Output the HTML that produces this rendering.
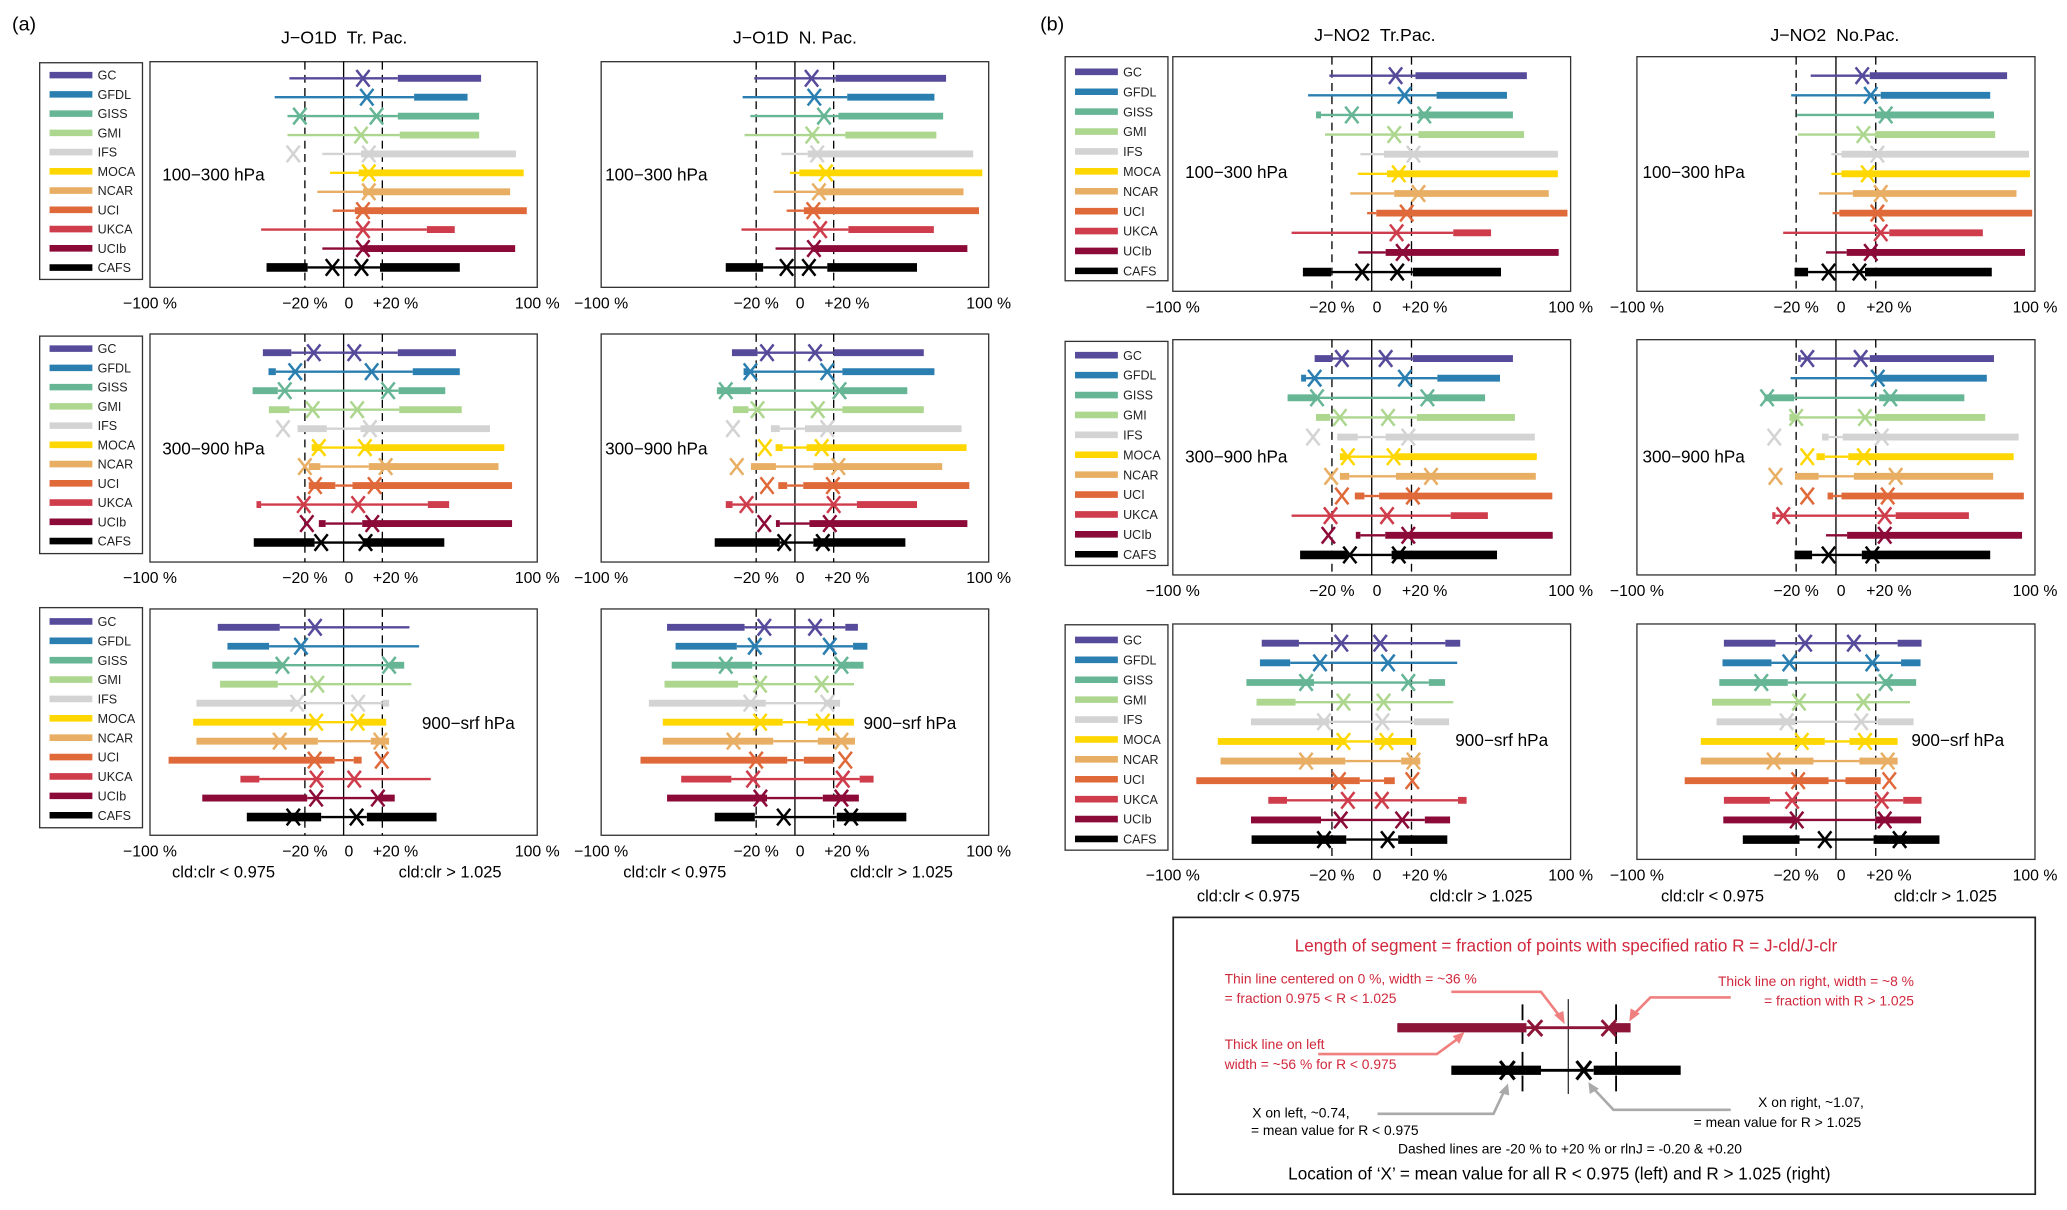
<!DOCTYPE html>
<html><head><meta charset="utf-8">
<style>
html,body{margin:0;padding:0;background:#fff;}
svg{display:block;}
text{font-family:"Liberation Sans",Arial,sans-serif;}
</style></head>
<body>
<svg id="fig" xmlns="http://www.w3.org/2000/svg" width="2067" height="1210" viewBox="0 0 1568 918">
<rect x="0" y="0" width="1568" height="918" fill="#fff"/>
<text x="9" y="23" font-size="15">(a)</text>
<text x="789" y="23" font-size="15">(b)</text>
<text x="261" y="33" font-size="13.5" text-anchor="middle">J−O1D &#160;Tr. Pac.</text>
<text x="603" y="33" font-size="13.5" text-anchor="middle">J−O1D &#160;N. Pac.</text>
<text x="1043" y="31" font-size="13.5" text-anchor="middle">J−NO2 &#160;Tr.Pac.</text>
<text x="1392" y="31" font-size="13.5" text-anchor="middle">J−NO2 &#160;No.Pac.</text>
<g id="plots"></g>
<g id="note">
<rect x="890" y="696" width="654" height="210" fill="#fff" stroke="#222" stroke-width="1.3"/>
<text x="1188" y="722" font-size="13" fill="#d0283c" text-anchor="middle">Length of segment = fraction of points with specified ratio R = J-cld/J-clr</text>
<text x="929" y="746" font-size="10.5" fill="#d0283c">Thin line centered on 0 %, width = ~36 %</text>
<text x="929" y="761" font-size="10.5" fill="#d0283c">= fraction 0.975 &lt; R &lt; 1.025</text>
<text x="1452" y="748" font-size="10.5" fill="#d0283c" text-anchor="end">Thick line on right, width = ~8 %</text>
<text x="1452" y="763" font-size="10.5" fill="#d0283c" text-anchor="end">= fraction with R &gt; 1.025</text>
<text x="929" y="796" font-size="10.5" fill="#d0283c">Thick line on left</text>
<text x="929" y="811" font-size="10.5" fill="#d0283c">width = ~56 % for R &lt; 0.975</text>
<line x1="1189.7" y1="758" x2="1189.7" y2="830" stroke="#000" stroke-width="0.8"/>
<line x1="1155" y1="762" x2="1155" y2="830" stroke="#000" stroke-width="1.4" stroke-dasharray="12,6"/>
<line x1="1226" y1="762" x2="1226" y2="830" stroke="#000" stroke-width="1.4" stroke-dasharray="12,6"/>
<line x1="1060" y1="779.7" x2="1158" y2="779.7" stroke="#8c1538" stroke-width="7"/>
<line x1="1158" y1="779.7" x2="1222" y2="779.7" stroke="#8c1538" stroke-width="2.2"/>
<line x1="1222" y1="779.7" x2="1237" y2="779.7" stroke="#8c1538" stroke-width="7"/>
<path d="M1159,774 L1170,786 M1170,774 L1159,786 M1215,774 L1226,786 M1226,774 L1215,786" stroke="#8c1538" stroke-width="2.2"/>
<line x1="1101" y1="812" x2="1169" y2="812" stroke="#000" stroke-width="7"/>
<line x1="1169" y1="812" x2="1209" y2="812" stroke="#000" stroke-width="2.2"/>
<line x1="1209" y1="812" x2="1275" y2="812" stroke="#000" stroke-width="7"/>
<path d="M1138,805 L1149,819 M1149,805 L1138,819 M1196,805 L1207,819 M1207,805 L1196,819" stroke="#000" stroke-width="2.4"/>
<polyline points="1101,752.5 1169,752.5 1184,772" fill="none" stroke="#f08080" stroke-width="2"/>
<polygon points="1187,777 1179,770 1186,767" fill="#f08080"/>
<polyline points="1313,756.7 1252,756.7 1240,769" fill="none" stroke="#f08080" stroke-width="2"/>
<polygon points="1236,775 1237,765 1244,769" fill="#f08080"/>
<polyline points="1000,799.7 1090,799.7 1106,788" fill="none" stroke="#f08080" stroke-width="2"/>
<polygon points="1111,783 1102,786 1107,792" fill="#f08080"/>
<polyline points="1045,845 1133,845 1141,828" fill="none" stroke="#aaa" stroke-width="2"/>
<polygon points="1144,822 1137,829 1145,831" fill="#aaa"/>
<polyline points="1313,842 1224,842 1209,826" fill="none" stroke="#aaa" stroke-width="2"/>
<polygon points="1205,821 1206,830 1213,826" fill="#aaa"/>
<text x="950" y="848" font-size="10.5">X on left, ~0.74,</text>
<text x="949" y="861" font-size="10.5">= mean value for R &lt; 0.975</text>
<text x="1414" y="840" font-size="10.5" text-anchor="end">X on right, ~1.07,</text>
<text x="1412" y="855" font-size="10.5" text-anchor="end">= mean value for R &gt; 1.025</text>
<text x="1191" y="875" font-size="10.5" text-anchor="middle">Dashed lines are -20 % to +20 % or rlnJ = -0.20 &amp; +0.20</text>
<text x="1183" y="895" font-size="13" text-anchor="middle">Location of ‘X’ = mean value for all R &lt; 0.975 (left) and R &gt; 1.025 (right)</text>
</g>
</svg>
<script>
const models = ["GC","GFDL","GISS","GMI","IFS","MOCA","NCAR","UCI","UKCA","UCIb","CAFS"];
const colors = ["#564a9b","#2b7fb0","#66b595","#add68f","#d3d3d3","#ffd700","#e8ae64","#e0693a","#cf3c4b","#8c0a38","#000000"];
const tickLabels = ["−100 %","−20 %","0","+20 %","100 %"];
const tickValues = [-100,-20,0,20,100];

const aTL_L0=[-28,-35.6,-29,-29,-11,-7,-13.6,-5.6,-42.6,-11,-39.8];
const aTL_T0=[-28,-35.6,-29,-29,-11,-7,-13.6,-5.6,-42.6,-11,-18.6];
const aTL_T1=[28,36.4,28,29,9,7.8,10,5.8,43,9.8,18.8];
const aTL_R1=[71,64,70,70,89,93,86,94.6,57.4,88.6,60];
const aTL_XL=[null,null,-22.6,null,-26,null,null,null,null,null,-5.8];
const aTL_XR=[10,12,17,9,13,13,13,10,10,10,9.2];

const aTR_L0=[-21,-27,-23,-26,-7,-2.6,-11,-4.3,-27.6,-10,-35.7];
const aTR_T0=[-21,-27,-23,-26,-7,-2.6,-11,-4.3,-27.6,-10,-16.4];
const aTR_T1=[21,27,22.5,26,6.6,2.3,11,4.6,27.6,9.5,16.7];
const aTR_R1=[78,72,76.5,73,92,96.7,87,95,71.7,89,63];
const aTR_XL=[null,null,null,null,null,null,null,null,null,null,-4.3];
const aTR_XR=[8.6,10,15,9,11.5,16,12.4,9.5,13,9.8,7.2];

const aML_L0=[-41.7,-38.8,-47,-38.6,-23.8,-16.5,-18,-18,-45,-12.8,-46.4];
const aML_T0=[-27,-35,-34,-28,-8.7,-12,-12,-4.3,-42.6,-9.3,-15];
const aML_T1=[28,35.7,28.4,28.7,8.7,9.5,13,4.6,43.5,9.6,10];
const aML_R1=[58,60,52.5,61,75.6,83,80,87,54.5,87,52];
const aML_XL=[-15.4,-25,-30.4,-16,-31.3,-12.8,-20,-14.8,-20.6,-19,-11.6];
const aML_XR=[5.5,14.5,23,7,13.6,11,21.7,16,7.5,14.8,11.3];

const aMR_L0=[-32.5,-26.5,-40.3,-32,-12.4,-10,-22.7,-8.6,-35.7,-9.8,-41.4];
const aMR_T0=[-19.3,-24,-22.7,-24,-7.8,-6.3,-9.8,-4,-32.2,-7.8,-7.8];
const aMR_T1=[20,24.5,23.3,24.5,5.2,6,9.5,4.3,32,7.5,9.5];
const aMR_R1=[66.5,72,58,66.5,86,88.6,76,90,63,89,57];
const aMR_XL=[-14.4,-23,-35.7,-19.3,-32,-15.5,-30,-14.4,-25,-15.8,-5.5];
const aMR_XR=[10.4,16.7,23,11.8,16.7,13.8,22.4,19.6,20,18,14.4];

const aBL_L0=[-65,-60,-67.8,-63.8,-76,-77.7,-76,-90.4,-53.3,-73,-50];
const aBL_T0=[-33,-38.5,-31.6,-34,-23.8,-14,-13.3,-4.6,-43.5,-18.8,-11.6];
const aBL_T1=[34,39,23.5,35,20,8,14,5.2,45,18,12];
const aBL_R1=[34,39,31.3,35,23.5,22,23.5,9.3,45,26.4,48];
const aBL_XL=[-14.8,-22,-31.6,-13.6,-24,-14.2,-33,-15,-14,-14.2,-26];
const aBL_XR=[null,null,23.5,null,7.5,7.2,19,19.7,5.5,17.7,6.7];

const aBR_L0=[-66,-61.6,-63.6,-67.3,-75.4,-68.2,-68.2,-79.7,-58.7,-66,-41.4];
const aBR_T0=[-26,-30,-22,-29.4,-15,-6.3,-11.2,-4,-32.8,-14.4,-20.7];
const aBR_T1=[26,30,22.4,30.5,15,6.6,11.8,4.6,33.4,14.4,21.6];
const aBR_R1=[32.5,37.4,35.4,30.5,23.3,30.5,31,19.9,40.6,33,57.5];
const aBR_XL=[-15.8,-20.7,-35.7,-18,-23,-18,-31.7,-20,-21.6,-17.8,-5.8];
const aBR_XR=[10.4,18,24,13.8,16.7,14.4,24,26,24.7,24,29];

const bTL_L0=[-21.3,-32,-28,-23.5,-5.7,-7,-10.8,-2.3,-40.3,-6.8,-34.6];
const bTL_T0=[-21.3,-32,-25.5,-23.5,-5.7,-7,-10.8,-2.3,-40.3,-6.8,-20.4];
const bTL_T1=[22,32.6,23.5,23.5,6.2,7.7,11.3,2.3,41,7,20.7];
const bTL_R1=[78,68,71,76.6,93.6,93.6,89,98.4,60,94,65];
const bTL_XL=[null,null,-10,null,null,null,null,null,null,null,-4.8];
const bTL_XR=[12,16.5,26.4,11.3,21,13.6,23.5,17.6,12.5,15.6,12.8];

const bTR_L0=[-12.7,-22.5,-19.7,-19,-2.3,-2.3,-8.5,-1.7,-26.5,-5,-20.8];
const bTR_T0=[-12.7,-22.5,-19.7,-19,-2.3,-2.3,-8.5,-1.7,-26.5,-5,-14];
const bTR_T1=[17,22.5,19.7,19.7,2.8,2.8,8.5,1.7,26.8,5.4,14.6];
const bTR_R1=[86,77.5,79.4,80,97,97.5,90.7,98.6,73.8,95,78.3];
const bTR_XL=[null,null,null,null,null,null,null,null,null,null,-3.7];
const bTR_XR=[13.2,17.5,25,13.8,20.8,16,22.5,20.8,22.5,17.5,11.8];

const bML_L0=[-28.7,-35.5,-42.3,-28,-17.3,-16,-16,-8.5,-40.3,-8,-36];
const bML_T0=[-19.9,-33,-27.5,-21,-7,-13,-11.3,-3.7,-40.3,-5.7,-12];
const bML_T1=[20.7,33,27,22.7,7,12,12.2,3.7,39.7,6.8,10];
const bML_R1=[71,64.5,57,72,82,83,82.5,90.8,58.4,91,63];
const bML_XL=[-15,-28.7,-27.5,-16,-29.5,-12,-20.4,-15,-20.7,-21.8,-11];
const bML_XR=[7,16.7,28,8.2,18.4,11,29.8,20.7,7.7,18.4,13.6];

const bMR_L0=[-19,-22.8,-36,-23.4,-7,-9.8,-20.6,-4.2,-32,-5,-20.8];
const bMR_T0=[-17.7,-22.8,-21,-20,-3.7,-5.6,-8.7,-1.4,-30.4,-5,-12];
const bMR_T1=[17,21,21.7,19.7,3.4,6.2,9,2.8,30,5.6,13];
const bMR_R1=[79.4,75.8,64.5,75,91.8,89.3,79,94.4,66.8,93.5,77.5];
const bMR_XL=[-14.4,null,-34.6,-20,-31,-14.4,-30.4,-14.4,-26.5,null,-3.7];
const bMR_XR=[12.4,21,27.3,14.6,23,14,30,26,24.5,24.5,18.3];

const bBL_L0=[-55.3,-56.2,-63,-57.9,-60.7,-77.4,-76,-88.2,-52,-60.7,-60.4];
const bBL_T0=[-36.6,-41,-29,-38.3,-21.3,-12.8,-13.3,-6,-42.6,-25.5,-12.8];
const bBL_T1=[37,43,28.7,41,21.3,1.4,14.8,6.2,43.4,26.7,13.3];
const bBL_R1=[44.5,43,36.9,41,38.9,22.4,24.4,11.6,47.7,39.4,38];
const bBL_XL=[-15.3,-26,-33,-14.2,-24,-14.2,-33,-16.5,-12,-15.6,-24];
const bBL_XR=[4.3,8.2,18.4,6,5.4,7.4,21,20.4,5.1,15.3,8];

const bBR_L0=[-56.3,-57,-58.6,-62.3,-60,-67.9,-67.9,-76,-56.3,-56.6,-46.8];
const bBR_T0=[-30.4,-32.4,-24.2,-32.7,-20.6,-5.6,-11.3,-3.7,-33.2,-19.7,-18.3];
const bBR_T1=[31,32.7,23.7,37.2,21,6.8,11.8,4.8,33.8,19.7,18.9];
const bBR_R1=[43,42.5,40.3,37.2,39,31,31,22.5,43,42.8,52];
const bBR_XL=[-15.5,-23.4,-37.5,-18.6,-24.8,-17.2,-31.3,-19,-22,-19.7,-5.6];
const bBR_XR=[9,18.3,25,13.8,12.7,14.6,26,26.8,23,24.5,32];

const NS="http://www.w3.org/2000/svg";
const root=document.getElementById('plots');
function mk(tag,attrs,parent){const e=document.createElementNS(NS,tag);for(const k in attrs)e.setAttribute(k,attrs[k]);(parent||root).appendChild(e);return e;}

const panels=[
 {id:'a-tr-pac-100-300',x0:113.7,x1:407.5,y0:46.8,y1:218,r0:59.4,dr:14.35,L0:aTL_L0,T0:aTL_T0,T1:aTL_T1,R1:aTL_R1,XL:aTL_XL,XR:aTL_XR,lab:'100−300 hPa',lx:123,ly:137},
 {id:'a-n-pac-100-300',x0:456,x1:750,y0:46.8,y1:218,r0:59.4,dr:14.35,L0:aTR_L0,T0:aTR_T0,T1:aTR_T1,R1:aTR_R1,XL:aTR_XL,XR:aTR_XR,lab:'100−300 hPa',lx:459,ly:137},
 {id:'a-tr-pac-300-900',x0:113.7,x1:407.5,y0:253.4,y1:426.4,r0:267.6,dr:14.4,L0:aML_L0,T0:aML_T0,T1:aML_T1,R1:aML_R1,XL:aML_XL,XR:aML_XR,lab:'300−900 hPa',lx:123,ly:345},
 {id:'a-n-pac-300-900',x0:456,x1:750,y0:253.4,y1:426.4,r0:267.6,dr:14.4,L0:aMR_L0,T0:aMR_T0,T1:aMR_T1,R1:aMR_R1,XL:aMR_XL,XR:aMR_XR,lab:'300−900 hPa',lx:459,ly:345},
 {id:'a-tr-pac-900-srf',x0:113.7,x1:407.5,y0:462,y1:633.7,r0:475.9,dr:14.4,L0:aBL_L0,T0:aBL_T0,T1:aBL_T1,R1:aBL_R1,XL:aBL_XL,XR:aBL_XR,lab:'900−srf hPa',lx:320,ly:553,cc:true},
 {id:'a-n-pac-900-srf',x0:456,x1:750,y0:462,y1:633.7,r0:475.9,dr:14.4,L0:aBR_L0,T0:aBR_T0,T1:aBR_T1,R1:aBR_R1,XL:aBR_XL,XR:aBR_XR,lab:'900−srf hPa',lx:655,ly:553,cc:true},
 {id:'b-tr-pac-100-300',x0:889.7,x1:1191.5,y0:43,y1:221,r0:57.4,dr:14.9,L0:bTL_L0,T0:bTL_T0,T1:bTL_T1,R1:bTL_R1,XL:bTL_XL,XR:bTL_XR,lab:'100−300 hPa',lx:899,ly:135},
 {id:'b-no-pac-100-300',x0:1241.8,x1:1543.8,y0:43,y1:221,r0:57.4,dr:14.9,L0:bTR_L0,T0:bTR_T0,T1:bTR_T1,R1:bTR_R1,XL:bTR_XL,XR:bTR_XR,lab:'100−300 hPa',lx:1246,ly:135},
 {id:'b-tr-pac-300-900',x0:889.7,x1:1191.5,y0:257.7,y1:436.2,r0:272,dr:14.9,L0:bML_L0,T0:bML_T0,T1:bML_T1,R1:bML_R1,XL:bML_XL,XR:bML_XR,lab:'300−900 hPa',lx:899,ly:351},
 {id:'b-no-pac-300-900',x0:1241.8,x1:1543.8,y0:257.7,y1:436.2,r0:272,dr:14.9,L0:bMR_L0,T0:bMR_T0,T1:bMR_T1,R1:bMR_R1,XL:bMR_XL,XR:bMR_XR,lab:'300−900 hPa',lx:1246,ly:351},
 {id:'b-tr-pac-900-srf',x0:889.7,x1:1191.5,y0:473.4,y1:652,r0:488,dr:14.9,L0:bBL_L0,T0:bBL_T0,T1:bBL_T1,R1:bBL_R1,XL:bBL_XL,XR:bBL_XR,lab:'900−srf hPa',lx:1104,ly:566,cc:true},
 {id:'b-no-pac-900-srf',x0:1241.8,x1:1543.8,y0:473.4,y1:652,r0:488,dr:14.9,L0:bBR_L0,T0:bBR_T0,T1:bBR_T1,R1:bBR_R1,XL:bBR_XL,XR:bBR_XR,lab:'900−srf hPa',lx:1450,ly:566,cc:true}
];

panels.forEach(p=>{
  const g=mk('g',{});
  
  
  const xs=v=>p.x0+(v+100)/200*(p.x1-p.x0);
  const ys=i=>p.r0+i*p.dr;
  const fr=mk('rect',{x:p.x0,y:p.y0,width:p.x1-p.x0,height:p.y1-p.y0,fill:'#fff',stroke:'#333','stroke-width':1},g);
  
  
  [-20,20].forEach(v=>{
    const l=mk('line',{x1:xs(v),x2:xs(v),y1:p.y0,y2:p.y1,stroke:'#000','stroke-width':1,'stroke-dasharray':'6,4'},g);
    
    
  });
  const z=mk('line',{x1:xs(0),x2:xs(0),y1:p.y0,y2:p.y1,stroke:'#000','stroke-width':1},g);
  
  
  const pl=mk('text',{x:p.lx,y:p.ly,'font-size':13},g);
  pl.textContent=p.lab;
  
  
  models.forEach((m,i)=>{
    const y=ys(i), c=colors[i], tw=(m==='CAFS')?6.5:5.2;
    const rg=mk('g',{},g);
    
    
    if(p.T0[i]>p.L0[i]){const l=mk('line',{x1:xs(p.L0[i]),x2:xs(p.T0[i]),y1:y,y2:y,stroke:c,'stroke-width':tw},rg);
      
      }
    const t=mk('line',{x1:xs(p.T0[i]),x2:xs(p.T1[i]),y1:y,y2:y,stroke:c,'stroke-width':1.8},rg);
    
    
    if(p.R1[i]>p.T1[i]){const r=mk('line',{x1:xs(p.T1[i]),x2:xs(p.R1[i]),y1:y,y2:y,stroke:c,'stroke-width':tw},rg);
      
      }
    [p.XL[i],p.XR[i]].forEach((v,k)=>{
      if(v===null) return;
      const xx=xs(v);
      const mkp=mk('path',{d:`M${xx-5},${y-6.3} L${xx+5},${y+6.3} M${xx+5},${y-6.3} L${xx-5},${y+6.3}`,stroke:c,'stroke-width':1.9,fill:'none'},rg);
      
      
    });
  });
  const ty=p.y1+16;
  const off=[0,0,4,10,0];
  tickValues.forEach((v,k)=>{
    const tt=mk('text',{x:xs(v)+off[k],y:ty,'font-size':12,'text-anchor':'middle'},g);
    tt.textContent=tickLabels[k];
    
    
  });
  if(p.cc){
    const c1=mk('text',{x:xs(-62),y:ty+16,'font-size':12.5,'text-anchor':'middle'},g);
    c1.textContent='cld:clr < 0.975';
    
    
    const c2=mk('text',{x:xs(55),y:ty+16,'font-size':12.5,'text-anchor':'middle'},g);
    c2.textContent='cld:clr > 1.025';
    
    
  }
});

const legends=[
 {x0:30,x1:108,y0:47.6,y1:212,r0:57,dr:14.6},
 {x0:30,x1:108,y0:255,y1:420,r0:264.5,dr:14.6},
 {x0:30,x1:108,y0:461,y1:628,r0:471.5,dr:14.7},
 {x0:808,x1:886,y0:43,y1:213,r0:54.5,dr:15.1},
 {x0:808,x1:886,y0:259,y1:429,r0:269.5,dr:15.1},
 {x0:808,x1:886,y0:474,y1:645,r0:485.5,dr:15.1}
];
legends.forEach((L,j)=>{
  const g=mk('g',{});
  
  
  mk('rect',{x:L.x0,y:L.y0,width:L.x1-L.x0,height:L.y1-L.y0,fill:'#fff',stroke:'#333','stroke-width':1},g);
  models.forEach((m,i)=>{
    const y=L.r0+i*L.dr;
    const e=mk('g',{},g);
    
    
    mk('line',{x1:L.x0+7.5,x2:L.x0+40,y1:y,y2:y,stroke:colors[i],'stroke-width':5},e);
    const t=mk('text',{x:L.x0+44,y:y+3.5,'font-size':9.5,fill:'#222'},e);
    t.textContent=m;
  });
});
</script>
</body></html>
